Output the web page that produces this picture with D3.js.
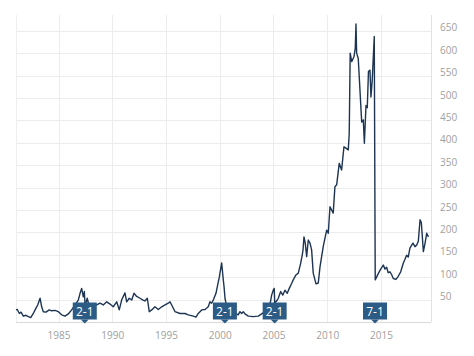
<!DOCTYPE html>
<html><head><meta charset="utf-8">
<script src="https://cdn.jsdelivr.net/npm/d3@7"></script>
<style>html,body{margin:0;padding:0;background:#fff;}svg{display:block;}</style>
</head><body>
<svg id="c" width="474" height="356"></svg>
<script>
// decimal years and prices (unadjusted)
const years = [1981.04,1981.16,1981.35,1981.51,1981.72,1981.97,1982.19,1982.41,1982.65,1982.90,
1983.06,1983.28,1983.43,1983.58,1983.83,1984.14,1984.36,1984.67,1984.98,1985.29,1985.60,1985.91,
1986.22,1986.53,1986.84,1987.00,1987.15,1987.30,1987.40,1987.46,1987.58,1987.67,1987.86,1988.20,
1988.55,1988.86,1989.16,1989.48,1989.79,1990.09,1990.41,1990.65,1990.87,1991.18,1991.34,1991.58,
1991.81,1992.02,1992.27,1992.58,1992.86,1993.04,1993.26,1993.44,1993.67,1993.97,1994.28,1994.60,
1994.91,1995.21,1995.37,1995.53,1995.84,1996.30,1996.77,1997.07,1997.54,1997.79,1998.00,1998.32,
1998.63,1998.93,1999.09,1999.25,1999.40,1999.65,1999.87,1999.96,2000.02,2000.18,2000.33,2000.40,
2000.49,2000.58,2000.76,2001.04,2001.42,2001.72,2001.88,2002.04,2002.19,2002.35,2002.66,2003.12,
2003.59,2003.90,2004.21,2004.49,2004.72,2004.83,2004.98,2005.07,2005.12,2005.36,2005.45,2005.67,
2005.86,2006.07,2006.28,2006.47,2006.69,2006.84,2007.09,2007.31,2007.53,2007.68,2007.75,2007.84,
2007.96,2008.09,2008.24,2008.40,2008.55,2008.70,2008.96,2009.17,2009.33,2009.63,2009.95,2010.10,
2010.26,2010.41,2010.56,2010.72,2010.88,2011.12,2011.34,2011.56,2011.74,2011.96,2012.05,2012.14,
2012.28,2012.49,2012.61,2012.68,2012.74,2012.89,2013.21,2013.36,2013.46,2013.61,2013.73,2013.84,
2013.98,2014.07,2014.19,2014.38,2014.47,2014.75,2014.91,2015.22,2015.38,2015.53,2015.68,2015.84,
2015.99,2016.15,2016.40,2016.61,2016.84,2017.08,2017.24,2017.39,2017.54,2017.70,2017.98,2018.17,
2018.33,2018.48,2018.64,2018.76,2018.95,2019.10,2019.26,2019.42];
const prices = [27,28,19,22,13,15,12,10,19,31,
38,53,34,23,22,27,25,26,23,16,13,18,
27,38,49,64,75,56,68,40,45,53,34,40,
38,42,38,45,40,34,45,27,49,65,45,53,
49,64,57,53,49,47,53,23,27,34,28,34,
38,42,45,38,23,19,19,16,13,11,19,27,
28,34,45,42,49,64,90,100,109,132,94,79,
53,42,26,15,20,16,23,19,23,18,13,12,
13,18,23,33,45,60,71,75,42,49,53,68,
60,71,64,75,86,94,105,109,131,150,161,190,
176,146,183,176,161,109,85,87,123,168,205,198,
257,250,243,302,306,354,339,391,388,384,420,600,
581,592,610,665,600,588,446,451,399,483,478,559,
562,502,539,637,94,108,115,127,118,122,110,112,
106,97,95,102,112,131,140,149,145,165,176,168,
172,180,228,222,157,175,198,190];
const splitYears = [1987.44, 2000.48, 2005.11, 2014.45];
const splitLabels = ["2-1", "2-1", "2-1", "7-1"];
const xTicks = [1985, 1990, 1995, 2000, 2005, 2010, 2015];
const yTicks = [50,100,150,200,250,300,350,400,450,500,550,600,650];

const svg = d3.select("#c");
const L = 16, R = 431, T = 15, B = 322;
const x = d3.scaleLinear().domain([1981.04, 2019.66]).range([L, R]);
const y = d3.scaleLinear().domain([0, 685]).range([B, T]);
const font = "'Open Sans', sans-serif";

// grid
const g = svg.append("g");
g.selectAll("line.h").data(yTicks).join("line")
  .attr("x1", L).attr("x2", R).attr("y1", d => Math.round(y(d)) + 0.5).attr("y2", d => Math.round(y(d)) + 0.5)
  .attr("stroke", "#ececec").attr("stroke-width", 1);
g.selectAll("line.v").data(xTicks).join("line")
  .attr("x1", d => Math.round(x(d)) + 0.5).attr("x2", d => Math.round(x(d)) + 0.5).attr("y1", T).attr("y2", B)
  .attr("stroke", "#ececec").attr("stroke-width", 1);
// left & right borders
g.append("line").attr("x1", L + 0.5).attr("x2", L + 0.5).attr("y1", T).attr("y2", B).attr("stroke", "#efefef");
g.append("line").attr("x1", R + 0.5).attr("x2", R + 0.5).attr("y1", T).attr("y2", B).attr("stroke", "#e2e2e2");
// baseline
g.append("line").attr("x1", L).attr("x2", R).attr("y1", B + 0.5).attr("y2", B + 0.5).attr("stroke", "#d9d9d9");

// axes labels
const xAxis = d3.axisBottom(x).tickValues(xTicks).tickFormat(d3.format("d")).tickSize(0).tickPadding(10);
const xa = svg.append("g").attr("transform", `translate(0,${B})`).call(xAxis);
xa.select(".domain").remove();
xa.selectAll("text").attr("fill", "#a0a0a0").style("font-family", font).style("font-size", "10px");

const yAxis = d3.axisRight(y).tickValues(yTicks).tickSize(0).tickPadding(0);
const ya = svg.append("g").attr("transform", `translate(440,-3)`).call(yAxis);
ya.select(".domain").remove();
ya.selectAll("text").attr("fill", "#a0a0a0").style("font-family", font).style("font-size", "10px");

// line
const data = years.map((yr, i) => ({yr, v: prices[i]}));
svg.append("path").datum(data)
  .attr("fill", "none").attr("stroke", "#1d3553").attr("stroke-width", 1.4)
  .attr("stroke-linejoin", "round")
  .attr("d", d3.line().x(d => x(d.yr)).y(d => y(d.v)));

// split flags
const flags = svg.selectAll("g.flag").data(splitYears.map((s, i) => ({s, t: splitLabels[i]}))).join("g")
  .attr("transform", d => `translate(${x(d.s)},0)`);
flags.append("rect").attr("x", -12).attr("y", 302.5).attr("width", 24).attr("height", 17).attr("fill", "#2c5b86");
flags.append("path").attr("d", "M-4,319.5L4,319.5L0,323.5Z").attr("fill", "#2c5b86");
flags.append("text").attr("x", 0).attr("y", 315.5).attr("text-anchor", "middle")
  .attr("fill", "#fff").style("font-family", font).style("font-size", "12px").text(d => d.t);
</script>
</body></html>
